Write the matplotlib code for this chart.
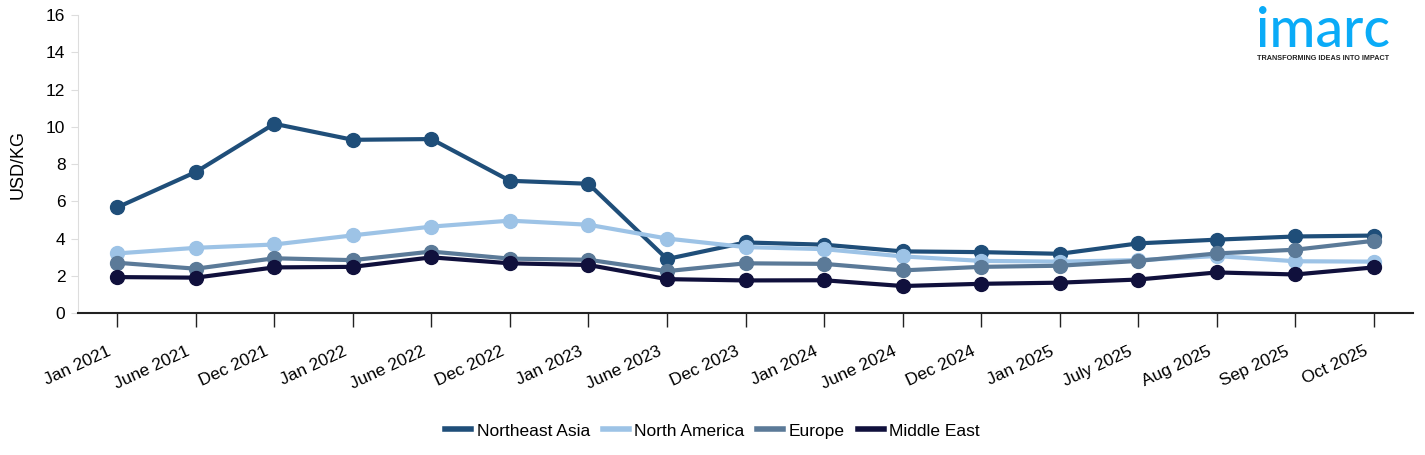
import numpy as np
import matplotlib
matplotlib.use("Agg")
import matplotlib.pyplot as plt
from matplotlib.transforms import ScaledTranslation

plt.rcParams['font.family'] = ['Liberation Sans', 'DejaVu Sans']

# Datos
periodos = ["Jan 2021", "June 2021", "Dec 2021", "Jan 2022", "June 2022", "Dec 2022",
            "Jan 2023", "June 2023", "Dec 2023", "Jan 2024", "June 2024", "Dec 2024",
            "Jan 2025", "July 2025", "Aug 2025", "Sep 2025", "Oct 2025"]

northeast_asia = [5.67, 7.57, 10.16, 9.30, 9.34, 7.10, 6.94, 2.90, 3.79, 3.67, 3.31, 3.27,
                  3.18, 3.74, 3.94, 4.11, 4.16]
north_america = [3.20, 3.50, 3.68, 4.17, 4.64, 4.96, 4.74, 4.00, 3.54, 3.43, 3.04, 2.80,
                 2.76, 2.84, 3.06, 2.78, 2.76]
europe = [2.70, 2.38, 2.94, 2.84, 3.30, 2.92, 2.86, 2.25, 2.67, 2.64, 2.29, 2.48,
          2.54, 2.80, 3.20, 3.40, 3.88]
middle_east = [1.93, 1.90, 2.45, 2.48, 2.99, 2.67, 2.58, 1.82, 1.75, 1.76, 1.45, 1.57,
               1.63, 1.80, 2.18, 2.07, 2.45]

series = [
    ("Northeast Asia", northeast_asia, "#1f4e79"),
    ("North America", north_america, "#9dc3e6"),
    ("Europe", europe, "#5b7a98"),
    ("Middle East", middle_east, "#10103c"),
]

fig = plt.figure(figsize=(14.25, 4.55), dpi=100)
ax = fig.add_axes([0.0547, 0.312, 0.937, 0.655])

x = np.arange(len(periodos))
for nombre, valores, color in series:
    ax.plot(x, valores, color=color, lw=3, marker="o", ms=10, label=nombre,
            solid_joinstyle="round")

ax.set_xlim(-0.5, len(periodos) - 0.5)
ax.set_ylim(0, 16)
ax.set_yticks(np.arange(0, 17, 2))
ax.set_xticks(x)
ax.set_xticklabels(periodos, rotation=25, ha="right", rotation_mode="anchor", fontsize=12.5)
ax.tick_params(axis="x", length=10, width=1, color="#222222", pad=12)
ax.tick_params(axis="y", length=5, color="#dddddd", labelsize=12.5, pad=4)

# desplazar un poco las etiquetas a la izquierda
desplazamiento = ScaledTranslation(-10 / 100, 0, fig.dpi_scale_trans)
for etiqueta in ax.get_xticklabels():
    etiqueta.set_transform(etiqueta.get_transform() + desplazamiento)

for lado in ["top", "right"]:
    ax.spines[lado].set_visible(False)
ax.spines["left"].set_color("#dddddd")
ax.spines["bottom"].set_color("#222222")
ax.spines["bottom"].set_linewidth(1.5)

ax.set_ylabel("USD/KG", fontsize=13, labelpad=14)

handles, labels = ax.get_legend_handles_labels()
leg = fig.legend(handles, labels, loc="center", bbox_to_anchor=(0.5, 1 - 431 / 455), ncol=4,
                 frameon=False, fontsize=12.5, handlelength=1.5, handletextpad=0.3,
                 columnspacing=0.75)
for linea in leg.get_lines():
    linea.set_marker("")
    linea.set_linewidth(4)

# Logo
fig.text(0.9285, 0.897, "imarc", color="#0aabf7", fontsize=40, family="Lato",
         fontweight="medium", ha="center", va="baseline")
fig.text(0.9285, 0.871, "TRANSFORMING IDEAS INTO IMPACT", color="#222222",
         fontsize=5.2, fontweight="bold", ha="center", va="center")

fig.savefig("out.png", dpi=100)
